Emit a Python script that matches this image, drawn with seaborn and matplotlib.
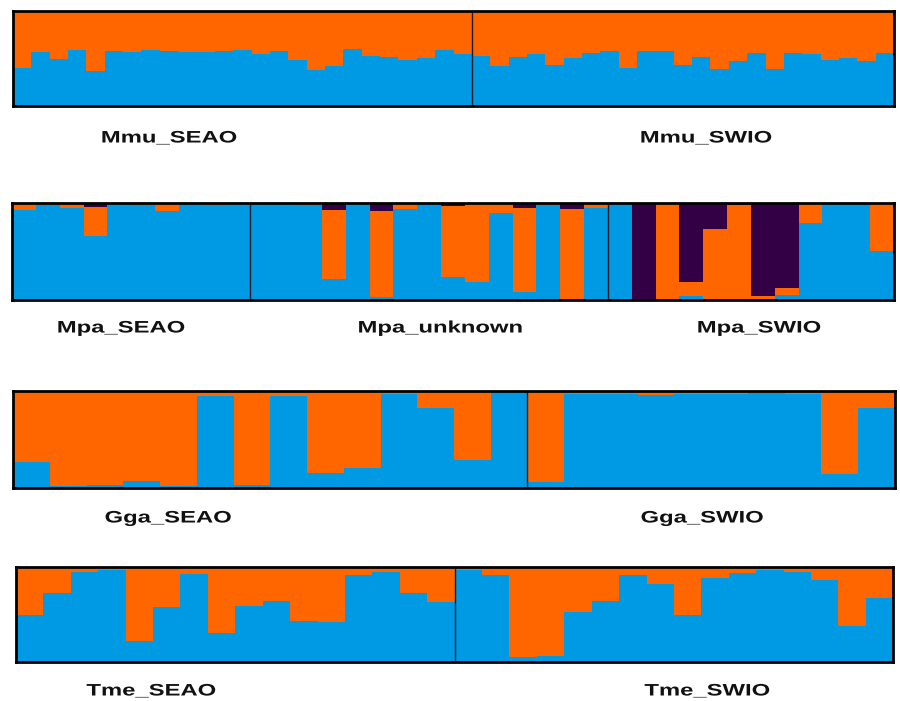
import numpy as np
import pandas as pd
import matplotlib
matplotlib.use("Agg")
import matplotlib.pyplot as plt
from matplotlib.patheffects import AbstractPathEffect
from matplotlib.transforms import Affine2D
import seaborn as sns

# ---- ancestry proportions (cluster 1 = blue, cluster 2 = orange, cluster 3 = purple) ----
mmu_groups = ["Mmu_SEAO", "Mmu_SWIO"]
mmu_seao_blue = [0.40, 0.57, 0.49, 0.585, 0.36, 0.58, 0.57, 0.585, 0.58, 0.57, 0.57, 0.58,
                 0.585, 0.55, 0.575, 0.485, 0.38, 0.42, 0.60, 0.52, 0.51, 0.485, 0.50, 0.59, 0.55]
mmu_swio_blue = [0.525, 0.42, 0.51, 0.55, 0.43, 0.50, 0.56, 0.58, 0.40, 0.58, 0.58, 0.43,
                 0.51, 0.39, 0.47, 0.56, 0.39, 0.56, 0.54, 0.485, 0.50, 0.47, 0.56]

mpa_groups = ["Mpa_SEAO", "Mpa_unknown", "Mpa_SWIO"]
mpa_seao_blue = [0.93, 0.98, 0.95, 0.66, 0.99, 0.975, 0.92, 0.99, 0.98, 0.99]
mpa_seao_purple = [0.0, 0.0, 0.01, 0.04, 0.0, 0.0, 0.0, 0.0, 0.0, 0.0]
mpa_unknown_blue = [0.995, 1.0, 0.98, 0.21, 1.0, 0.025, 0.94, 0.99, 0.23, 0.18, 0.90, 0.08,
                    0.98, 0.0, 0.95]
mpa_unknown_purple = [0.0, 0.0, 0.0, 0.07, 0.0, 0.08, 0.0, 0.0, 0.03, 0.01, 0.0, 0.05,
                      0.0, 0.06, 0.01]
mpa_swio_blue = [1.0, 0.0, 0.0, 0.035, 0.0, 0.0, 0.01, 0.05, 0.79, 1.0, 1.0, 0.50]
mpa_swio_purple = [0.0, 0.99, 0.01, 0.82, 0.27, 0.02, 0.96, 0.88, 0.0, 0.0, 0.0, 0.0]

gga_groups = ["Gga_SEAO", "Gga_SWIO"]
gga_seao_blue = [0.27, 0.02, 0.03, 0.07, 0.02, 0.95, 0.03, 0.95, 0.16, 0.21, 0.975, 0.825,
                 0.29, 0.99]
gga_swio_blue = [0.06, 0.97, 0.975, 0.96, 0.975, 0.97, 0.98, 0.975, 0.14, 0.83]

tme_groups = ["Tme_SEAO", "Tme_SWIO"]
tme_seao_blue = [0.50, 0.725, 0.95, 0.965, 0.22, 0.575, 0.93, 0.31, 0.59, 0.645, 0.43, 0.42,
                 0.92, 0.945, 0.725, 0.63]
tme_swio_blue = [0.965, 0.915, 0.05, 0.06, 0.53, 0.645, 0.915, 0.82, 0.50, 0.88, 0.94, 0.965,
                 0.95, 0.865, 0.375, 0.67]

BLUE = "#0099E3"
ORANGE = "#FF6600"
PURPLE = "#330046"

sns.set_style("white")
plt.rcParams["font.family"] = ["Liberation Sans", "DejaVu Sans"]

W, H = 900, 701
fig = plt.figure(figsize=(W / 100, H / 100), dpi=100)


class HStretch(AbstractPathEffect):
    """Widen text glyphs horizontally about the centre of the string."""

    def __init__(self, sx):
        super().__init__()
        self.sx = sx

    def draw_path(self, renderer, gc, tpath, affine, rgbFace=None):
        ext = tpath.get_extents()
        cx = 0.5 * (ext.x0 + ext.x1)
        tr = Affine2D().translate(-cx, 0).scale(self.sx, 1.0).translate(cx, 0) + affine
        renderer.draw_path(gc, tpath, tr, rgbFace)


def panel_axes(x0, x1, y0, y1):
    """Axes from pixel box (top-left origin)."""
    return fig.add_axes([x0 / W, 1 - y1 / H, (x1 - x0) / W, (y1 - y0) / H])


def structure_panel(ax, blues, purples):
    blue = np.concatenate([np.asarray(b, float) for b in blues])
    purple = np.concatenate([np.asarray(p, float) for p in purples])
    orange = 1.0 - blue - purple
    df = pd.DataFrame({
        "ind": np.arange(len(blue)),
        "k1": blue,
        "k12": blue + orange,
        "k123": blue + orange + purple,
    })
    for col, c in [("k123", PURPLE), ("k12", ORANGE), ("k1", BLUE)]:
        sns.barplot(data=df, x="ind", y=col, color=c, width=1.0, saturation=1,
                    linewidth=0, errorbar=None, ax=ax)
    # population boundaries
    edge = 0
    for b in blues[:-1]:
        edge += len(b)
        ax.axvline(edge - 0.5, color="#1c1c2a", lw=1.0, zorder=5)
    ax.set_xlim(-0.5, len(blue) - 0.5)
    ax.set_ylim(0, 1)
    ax.set_xticks([])
    ax.set_yticks([])
    ax.set_xlabel("")
    ax.set_ylabel("")
    for s in ax.spines.values():
        s.set_visible(True)
        s.set_color("black")
        s.set_linewidth(2.0)
        s.set_zorder(6)


def labels(names, xs, y):
    for name, x in zip(names, xs):
        fig.text(x / W, 1 - y / H, name, ha="center", va="center",
                 fontsize=12.0, fontweight="bold", color="#111111",
                 path_effects=[HStretch(1.43)])


ax1 = panel_axes(13, 894, 11, 105.5)
structure_panel(ax1, [mmu_seao_blue, mmu_swio_blue],
                [np.zeros(len(mmu_seao_blue)), np.zeros(len(mmu_swio_blue))])
labels(mmu_groups, [169, 706], 138)

ax2 = panel_axes(12, 894, 203, 299.5)
structure_panel(ax2, [mpa_seao_blue, mpa_unknown_blue, mpa_swio_blue],
                [mpa_seao_purple, mpa_unknown_purple, mpa_swio_purple])
labels(mpa_groups, [121, 440, 759], 328)

ax3 = panel_axes(13.3, 894.7, 391.3, 488)
structure_panel(ax3, [gga_seao_blue, gga_swio_blue],
                [np.zeros(len(gga_seao_blue)), np.zeros(len(gga_swio_blue))])
labels(gga_groups, [168, 702], 518)

ax4 = panel_axes(16, 893.3, 567, 662)
structure_panel(ax4, [tme_seao_blue, tme_swio_blue],
                [np.zeros(len(tme_seao_blue)), np.zeros(len(tme_swio_blue))])
labels(tme_groups, [151, 707], 691)

fig.savefig("out.png", dpi=100, facecolor="white")
